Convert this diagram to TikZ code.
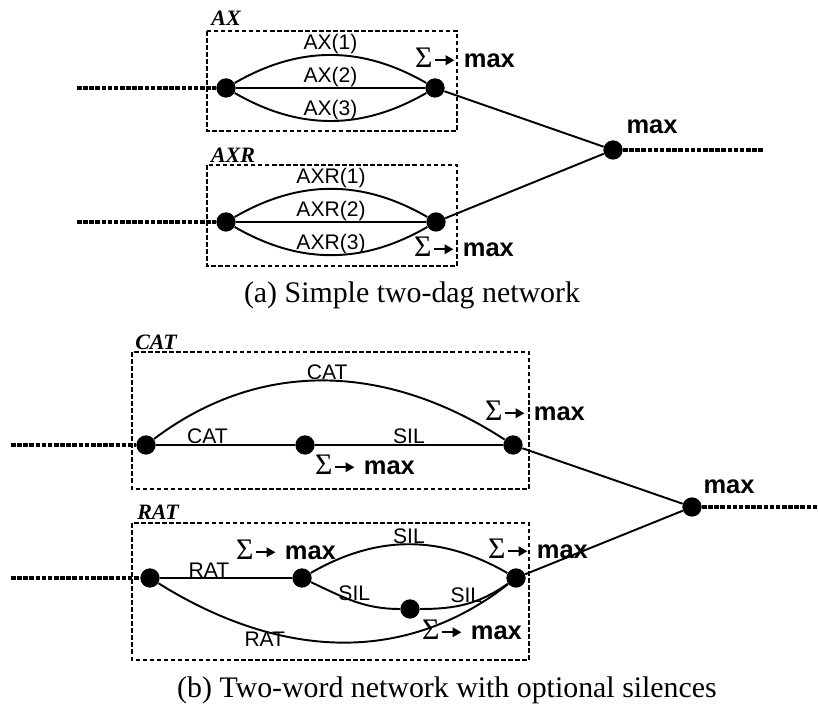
\documentclass[tikz,border=0pt]{standalone}
\usepackage{fontspec}
\setmainfont{Liberation Serif}
\setsansfont{Liberation Sans}
\usetikzlibrary{arrows.meta}

\newcommand{\summax}{{\rmfamily\fontsize{17}{17}\selectfont Σ}\hspace{1pt}\tikz[baseline=-4.2pt]\draw[line width=0.9pt,-{Triangle[length=5pt,width=5.5pt]}] (0pt,0pt) -- (11pt,0pt);\hspace{5pt}{\sffamily\bfseries\fontsize{14.5}{14.5}\selectfont max}}

\tikzset{
  dot/.style={circle, fill=black, inner sep=0pt, minimum size=11pt},
  link/.style={line width=1.1pt},
  feed/.style={line width=2.2pt, dash pattern=on 2.6pt off 0.9pt},
  dagbox/.style={line width=0.6pt, dash pattern=on 2.6pt off 1.4pt},
  lab/.style={font=\sffamily\fontsize{12}{12}\selectfont, inner sep=0pt},
  maxlab/.style={font=\sffamily\bfseries\fontsize{14.5}{14.5}\selectfont, inner sep=0pt},
  daglab/.style={font=\rmfamily\bfseries\itshape\fontsize{12.5}{12.5}\selectfont, inner sep=0pt},
  capt/.style={font=\rmfamily\fontsize{17}{17}\selectfont, inner sep=0pt},
  summax/.style={inner sep=0pt}
}

\begin{document}
\begin{tikzpicture}[x=0.02cm, y=0.02cm]
  \useasboundingbox (0,0) rectangle (818,715);

  % (a) two dags
  \draw[dagbox] (207,684) rectangle (457,584);
  \node[daglab] (axname) at (226,697) {AX};
  \draw[dagbox] (207,550) rectangle (457,449);
  \node[daglab] (axrname) at (233,560) {AXR};

  \coordinate (axin) at (77,627);
  \coordinate (axrin) at (77,493);
  \coordinate (aout) at (763,565);
  \node[dot] (a1) at (226,627) {};
  \node[dot] (a2) at (435,627) {};
  \node[dot] (b1) at (226,493) {};
  \node[dot] (b2) at (436,493) {};
  \node[dot] (m1) at (613,565) {};

  \draw[feed] (axin) -- (a1);
  \draw[feed] (axrin) -- (b1);
  \draw[feed] (m1) -- (aout);

  \draw[link] (a1) to[out=30,in=150] node[lab,above] {AX(1)} (a2);
  \draw[link] (a1) -- node[lab,above] {AX(2)} (a2);
  \draw[link] (a1) to[out=-30,in=-150] node[lab,above] {AX(3)} (a2);
  \draw[link] (b1) to[out=30,in=150] node[lab,above] {AXR(1)} (b2);
  \draw[link] (b1) -- node[lab,above] {AXR(2)} (b2);
  \draw[link] (b1) to[out=-30,in=-150] node[lab,above] {AXR(3)} (b2);
  \draw[link] (a2) -- (m1);
  \draw[link] (b2) -- (m1);

  \node[summax] (axsum) at (465,657) {\summax};
  \node[summax] (axrsum) at (464,468) {\summax};
  \node[maxlab] (m1lab) at (652,588) {max};

  \node[capt] (capa) at (412,420) {(a) Simple two-dag network};

  % (b) two words with silences
  \draw[dagbox] (132,363) rectangle (529,226);
  \node[daglab] (catname) at (156,373) {CAT};
  \draw[dagbox] (132,192) rectangle (529,55);
  \node[daglab] (ratname) at (158,203) {RAT};

  \coordinate (catin) at (11,270);
  \coordinate (ratin) at (11,137);
  \coordinate (bout) at (818,208);
  \node[dot] (c1) at (146,270) {};
  \node[dot] (c2) at (305,270) {};
  \node[dot] (c3) at (513,270) {};
  \node[dot] (r1) at (150,137) {};
  \node[dot] (r2) at (302,137) {};
  \node[dot] (r3) at (516,137) {};
  \node[dot] (r4) at (410,106) {};
  \node[dot] (m2) at (692,208) {};

  \draw[feed] (catin) -- (c1);
  \draw[feed] (ratin) -- (r1);
  \draw[feed] (m2) -- (bout);

  \draw[link] (c1) to[out=37,in=147] node[lab,above] {CAT} (c3);
  \draw[link] (c1) -- node[lab,above,pos=0.37] {CAT} (c2);
  \draw[link] (c2) -- node[lab,above] {SIL} (c3);
  \draw[link] (r1) -- node[lab,above,pos=0.37] {RAT} (r2);
  \draw[link] (r2) to[out=30,in=150] node[lab,above] {SIL} (r3);
  \draw[link] (r2) to[out=-25,in=180] node[lab,above] {SIL} (r4);
  \draw[link] (r4) to[out=0,in=-145] node[lab,above] {SIL} (r3);
  \draw[link] (r1) to[out=-32,in=-142] node[lab,below,pos=0.3] {RAT} (r3);
  \draw[link] (c3) -- (m2);
  \draw[link] (r3) -- (m2);

  \node[summax] (catsum) at (535,304) {\summax};
  \node[summax] (silsum) at (365,250) {\summax};
  \node[summax] (ratsum) at (286,165) {\summax};
  \node[summax] (r3sum) at (538,166) {\summax};
  \node[summax] (r4sum) at (472,85) {\summax};
  \node[maxlab] (m2lab) at (729,228) {max};

  \node[capt] (capb) at (447,25) {(b) Two-word network with optional silences};
\end{tikzpicture}
\end{document}
